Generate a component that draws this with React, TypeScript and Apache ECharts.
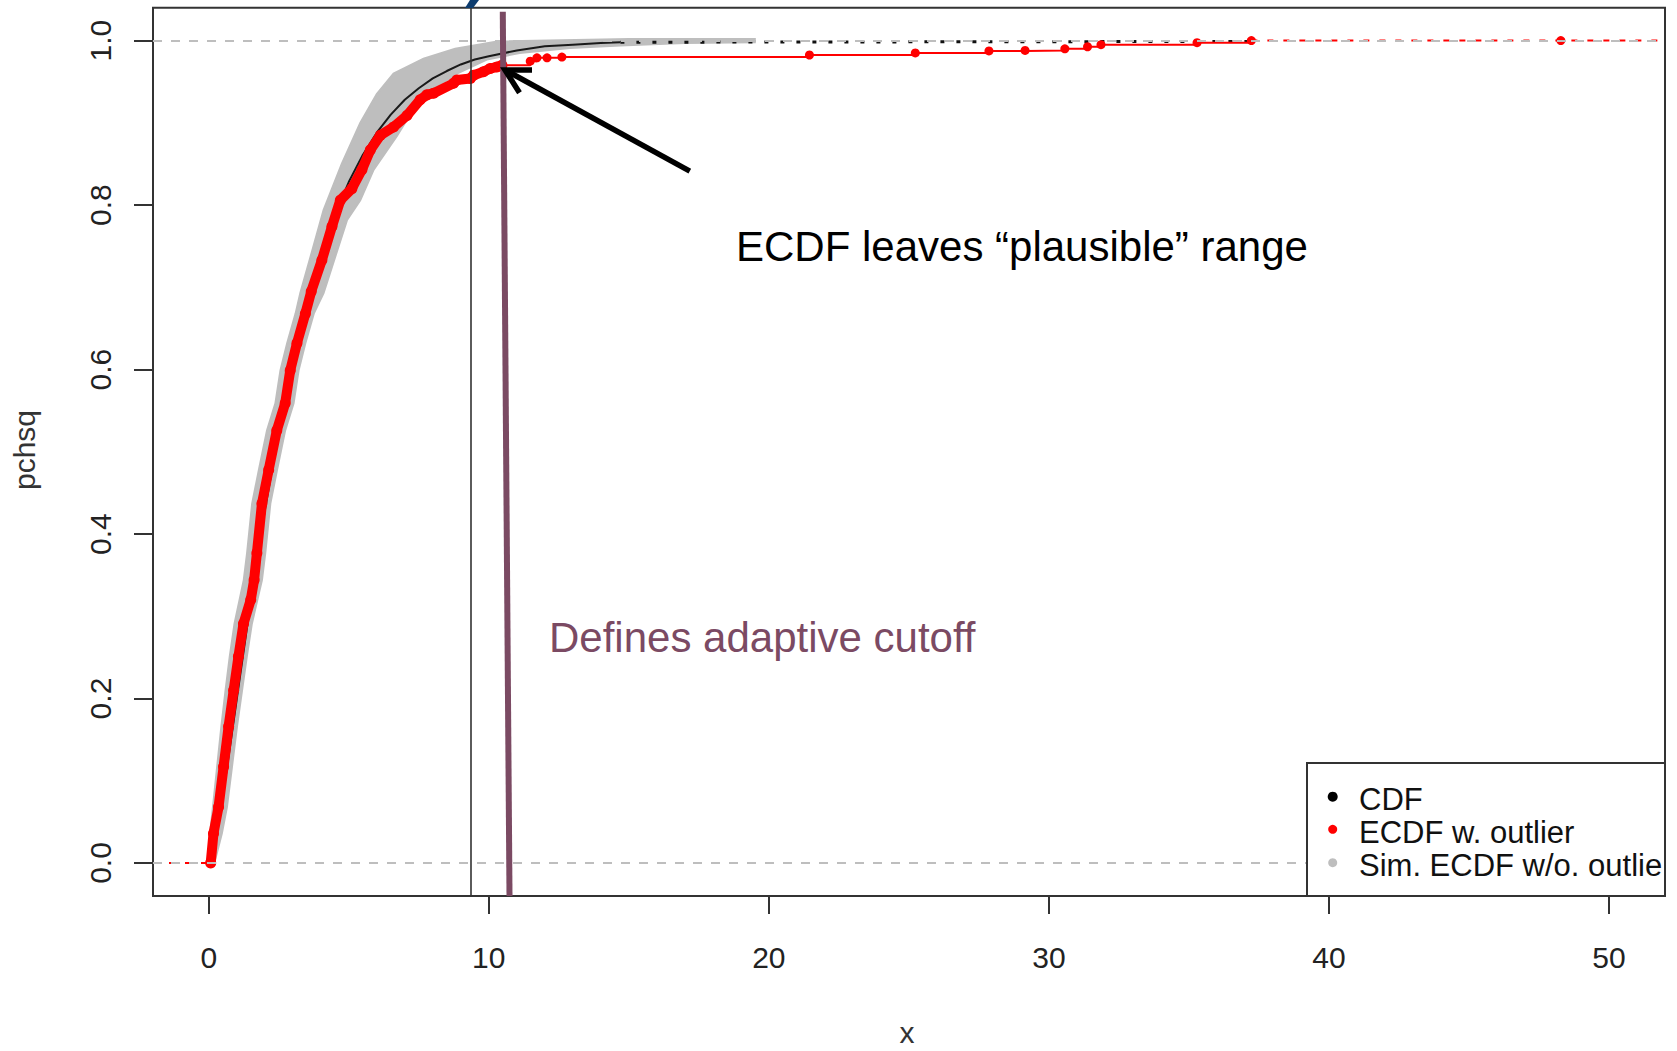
import React, { useEffect, useRef } from "react";
import * as echarts from "echarts";

// ---------- data ----------
const xTickValues = [0, 10, 20, 30, 40, 50];
const yTickValues = [0, 0.2, 0.4, 0.6, 0.8, 1.0];

// theoretical CDF (black curve)
const cdfX = [0, 0.25, 0.5, 0.75, 1, 1.5, 2, 2.5, 3, 3.5, 4, 4.5, 5, 5.5, 6, 6.5, 7, 7.5, 8, 8.5, 9, 9.5, 10, 11, 12, 13, 14, 14.7];
const cdfY = [0, 0.031, 0.081, 0.139, 0.199, 0.318, 0.428, 0.525, 0.608, 0.679, 0.739, 0.788, 0.828, 0.861, 0.888, 0.91, 0.928, 0.942, 0.954, 0.963, 0.971, 0.977, 0.981, 0.988, 0.993, 0.995, 0.997, 0.998];
const cdfTailX = [14.7, 37.23];
const cdfTailY = [0.998, 0.999];

// ECDF with outlier (red), dense part
const ecdfDenseX = [0.07, 0.17, 0.35, 0.53, 0.71, 0.89, 1.06, 1.24, 1.5, 1.62, 1.72, 1.9, 2.14, 2.43, 2.73, 2.91, 3.15, 3.45, 3.66, 4.04, 4.4, 4.7, 5.11, 5.47, 5.77, 6.13, 6.6, 7.08, 7.55, 7.79, 8.03, 8.74, 8.86, 9.34, 9.46, 9.81, 10.05, 10.29, 10.47];
const ecdfDenseY = [0.0, 0.036, 0.068, 0.117, 0.166, 0.21, 0.251, 0.291, 0.32, 0.344, 0.377, 0.437, 0.478, 0.526, 0.559, 0.599, 0.632, 0.668, 0.695, 0.733, 0.774, 0.806, 0.82, 0.843, 0.867, 0.885, 0.895, 0.909, 0.928, 0.934, 0.936, 0.948, 0.952, 0.954, 0.958, 0.962, 0.966, 0.968, 0.97];
// ECDF sparse steps (outliers)
const ecdfStepX = [10.47, 11.48, 11.72, 12.08, 12.61, 21.45, 25.23, 27.86, 29.15, 30.57, 31.38, 31.86, 35.29, 37.23];
const ecdfStepY = [0.97, 0.975, 0.979, 0.979, 0.98, 0.9825, 0.985, 0.9875, 0.988, 0.99, 0.9925, 0.995, 0.9975, 1.0];
const ecdfLastX = 48.28;

// simulated ECDF envelope (gray)
const simUpperX = [0.02, 0.05, 0.15, 0.3, 0.45, 0.6, 0.75, 0.92, 1.25, 1.37, 1.55, 1.79, 2.08, 2.38, 2.56, 2.8, 3.1, 3.27, 3.7, 4.1, 4.75, 5.41, 6.0, 6.6, 7.67, 8.8, 10.3, 15.0, 19.5];
const simUpperY = [0.0, 0.036, 0.068, 0.117, 0.166, 0.21, 0.251, 0.291, 0.344, 0.377, 0.437, 0.478, 0.526, 0.559, 0.599, 0.632, 0.668, 0.693, 0.745, 0.794, 0.85, 0.9, 0.935, 0.96, 0.978, 0.99, 0.999, 1.002, 1.002];
const simLowerX = [0.2, 0.47, 0.65, 0.83, 1.01, 1.19, 1.36, 1.54, 1.9, 2.02, 2.2, 2.44, 2.73, 3.03, 3.21, 3.45, 3.75, 4.1, 4.94, 5.41, 5.89, 6.72, 7.55, 8.86, 9.93, 11.1, 12.9, 14.7, 17.0, 19.5];
const simLowerY = [0.0, 0.036, 0.068, 0.117, 0.166, 0.21, 0.251, 0.291, 0.344, 0.377, 0.437, 0.478, 0.526, 0.559, 0.599, 0.632, 0.668, 0.693, 0.782, 0.806, 0.843, 0.884, 0.93, 0.96, 0.977, 0.985, 0.991, 0.994, 0.997, 0.998];

// reference lines
const quantileX = 9.36;
const cutoffTop = [10.5, 1.035];
const cutoffBottom = [10.74, -0.04];

const X_MIN = -1.99;
const X_MAX = 52.0;
const Y_MIN = -0.04;
const Y_MAX = 1.04;

const FONT = '"Liberation Sans", Arial, Helvetica, sans-serif';
const RED = "#FF0000";
const GRAY = "#BEBEBE";
const PURPLE = "#7B4A63";

function zip(xs: number[], ys: number[]) {
  return xs.map((x, i) => [x, ys[i]]);
}

export default function App() {
  const ref = useRef<HTMLDivElement>(null);

  useEffect(() => {
    if (!ref.current) return;
    const chart = echarts.init(ref.current, null, { renderer: "svg" });

    const option: any = {
      animation: false,
      backgroundColor: "#ffffff",
      textStyle: { fontFamily: FONT },
      grid: {
        left: 153,
        top: 7.7,
        width: 1512,
        height: 888.2,
        show: true,
        borderColor: "#333333",
        borderWidth: 2,
        backgroundColor: "transparent",
        containLabel: false,
        outerBoundsMode: "none",
      },
      xAxis: {
        type: "value",
        min: X_MIN,
        max: X_MAX,
        axisLine: { show: false, onZero: false },
        splitLine: { show: false },
        axisTick: {
          show: true,
          inside: false,
          length: 18,
          customValues: xTickValues,
          lineStyle: { color: "#333333", width: 2 },
        },
        axisLabel: {
          show: true,
          customValues: xTickValues,
          margin: 62,
          fontSize: 30,
          color: "#222222",
          align: "center",
          verticalAlign: "middle",
          formatter: (v: number) => String(v),
        },
      },
      yAxis: {
        type: "value",
        min: Y_MIN,
        max: Y_MAX,
        axisLine: { show: false, onZero: false },
        splitLine: { show: false },
        axisTick: {
          show: true,
          inside: false,
          length: 19,
          customValues: yTickValues,
          lineStyle: { color: "#333333", width: 2 },
        },
        axisLabel: {
          show: true,
          customValues: yTickValues,
          rotate: 90,
          margin: 53,
          fontSize: 30,
          color: "#222222",
          align: "center",
          verticalAlign: "middle",
          formatter: (v: number) => v.toFixed(1),
        },
      },
      series: [
        {
          name: "hlines",
          type: "line",
          data: [],
          z: 0,
          silent: true,
          markLine: {
            silent: true,
            symbol: ["none", "none"],
            label: { show: false },
            lineStyle: { color: GRAY, type: [9, 9], width: 2 },
            data: [{ yAxis: 0 }, { yAxis: 1 }],
          },
        },
        {
          name: "Sim. ECDF w/o. outlier",
          type: "custom",
          z: 1,
          silent: true,
          clip: true,
          itemStyle: { color: GRAY },
          data: [[0, 0]],
          encode: { x: 0, y: 1 },
          renderItem: (_params: any, api: any) => {
            const pts: number[][] = [];
            for (let i = 0; i < simUpperX.length; i++) pts.push(api.coord([simUpperX[i], simUpperY[i]]));
            for (let i = simLowerX.length - 1; i >= 0; i--) pts.push(api.coord([simLowerX[i], simLowerY[i]]));
            return {
              type: "polygon",
              shape: { points: pts },
              style: { fill: GRAY, stroke: GRAY, lineWidth: 2 },
            };
          },
        },
        {
          name: "quantile",
          type: "line",
          data: [],
          z: 2,
          silent: true,
          markLine: {
            silent: true,
            symbol: ["none", "none"],
            label: { show: false },
            lineStyle: { color: "#333333", type: "solid", width: 1.6 },
            data: [{ xAxis: quantileX }],
          },
        },
        {
          name: "CDF",
          type: "line",
          z: 3,
          silent: true,
          showSymbol: false,
          symbol: "none",
          lineStyle: { color: "#1a1a1a", width: 2 },
          data: zip(cdfX, cdfY),
        },
        {
          name: "CDF",
          type: "line",
          z: 3,
          silent: true,
          showSymbol: false,
          symbol: "none",
          lineStyle: { color: "#111111", width: 3, type: [4, 12] },
          data: zip(cdfTailX, cdfTailY),
        },
        {
          name: "ECDF w. outlier",
          type: "line",
          z: 4,
          silent: true,
          symbol: "circle",
          symbolSize: 11,
          showSymbol: true,
          itemStyle: { color: RED },
          lineStyle: { color: RED, width: 10, cap: "round", join: "round" },
          data: zip(ecdfDenseX, ecdfDenseY),
        },
        {
          name: "ECDF w. outlier",
          type: "line",
          z: 4,
          silent: true,
          step: "end",
          symbol: "circle",
          symbolSize: 9,
          showSymbol: true,
          itemStyle: { color: RED },
          lineStyle: { color: RED, width: 2 },
          data: zip(ecdfStepX, ecdfStepY),
        },
        {
          name: "ECDF w. outlier",
          type: "line",
          z: 4,
          silent: true,
          symbol: "circle",
          symbolSize: 9,
          showSymbol: true,
          itemStyle: { color: RED },
          lineStyle: { color: RED, width: 2, type: [6, 10] },
          data: [
            { value: [ecdfStepX[ecdfStepX.length - 1], 1], symbol: "none" },
            [ecdfLastX, 1],
            { value: [X_MAX, 1], symbol: "none" },
          ],
        },
        {
          name: "ECDF w. outlier",
          type: "line",
          z: 4,
          silent: true,
          symbol: "none",
          lineStyle: { color: RED, width: 2, type: [6, 10] },
          data: [
            [X_MIN, 0],
            [ecdfDenseX[0], 0],
          ],
        },
        {
          name: "cutoff",
          type: "line",
          data: [],
          z: 5,
          silent: true,
          markLine: {
            silent: true,
            symbol: ["none", "none"],
            label: { show: false },
            lineStyle: { color: PURPLE, type: "solid", width: 6 },
            data: [[{ coord: cutoffTop }, { coord: cutoffBottom }]],
          },
        },
      ],
      graphic: [
        // axis titles
        {
          type: "text",
          x: 907,
          y: 1032,
          z: 50,
          style: { text: "x", fontSize: 30, fontFamily: FONT, fill: "#333333", textAlign: "center", textVerticalAlign: "middle" },
        },
        {
          type: "text",
          x: 24.5,
          y: 450,
          rotation: Math.PI / 2,
          z: 50,
          style: { text: "pchsq", fontSize: 30, fontFamily: FONT, fill: "#333333", textAlign: "center", textVerticalAlign: "middle" },
        },
        // fragment of a cut-off element above the plot
        {
          type: "polygon",
          z: 50,
          shape: { points: [[470, 0], [479, 0], [473, 8], [465, 8]] },
          style: { fill: "#0d3c6e" },
        },
        // legend
        {
          type: "rect",
          z: 60,
          shape: { x: 1307, y: 763, width: 358, height: 133 },
          style: { fill: "#ffffff", stroke: "#333333", lineWidth: 2 },
        },
        { type: "circle", z: 61, shape: { cx: 1332.7, cy: 796.7, r: 5 }, style: { fill: "#000000" } },
        { type: "circle", z: 61, shape: { cx: 1332.7, cy: 829.3, r: 4.5 }, style: { fill: RED } },
        { type: "circle", z: 61, shape: { cx: 1332.7, cy: 862.7, r: 4.5 }, style: { fill: GRAY } },
        {
          type: "text",
          x: 1359,
          y: 799,
          z: 61,
          style: { text: "CDF", fontSize: 31, fontFamily: FONT, fill: "#111111", textVerticalAlign: "middle" },
        },
        {
          type: "text",
          x: 1359,
          y: 832.4,
          z: 61,
          style: { text: "ECDF w. outlier", fontSize: 31, fontFamily: FONT, fill: "#111111", textVerticalAlign: "middle" },
        },
        {
          type: "text",
          x: 1359,
          y: 865.2,
          z: 61,
          style: {
            text: "Sim. ECDF w/o. outlier",
            fontSize: 31,
            fontFamily: FONT,
            fill: "#111111",
            textVerticalAlign: "middle",
            width: 305,
            overflow: "truncate",
            ellipsis: "",
          },
        },
        // annotations
        {
          type: "text",
          x: 736,
          y: 246.4,
          z: 70,
          style: { text: "ECDF leaves \u201Cplausible\u201D range", fontSize: 42, fontFamily: FONT, fill: "#000000", textVerticalAlign: "middle" },
        },
        {
          type: "text",
          x: 549,
          y: 637,
          z: 70,
          style: { text: "Defines adaptive cutoff", fontSize: 42, fontFamily: FONT, fill: PURPLE, textVerticalAlign: "middle" },
        },
        {
          type: "line",
          z: 70,
          shape: { x1: 689.8, y1: 171.1, x2: 507, y2: 71 },
          style: { stroke: "#000000", lineWidth: 5.5 },
        },
        {
          type: "polyline",
          z: 70,
          shape: { points: [[532, 70], [505, 70], [519.5, 92.7]] },
          style: { stroke: "#000000", lineWidth: 5.5, fill: null, lineJoin: "miter" },
        },
      ],
    };

    chart.setOption(option);
    return () => {
      chart.dispose();
    };
  }, []);

  return (
    <div
      ref={ref}
      style={{ position: "absolute", left: 0, top: 0, width: 1677, height: 1051, background: "#ffffff" }}
    />
  );
}
